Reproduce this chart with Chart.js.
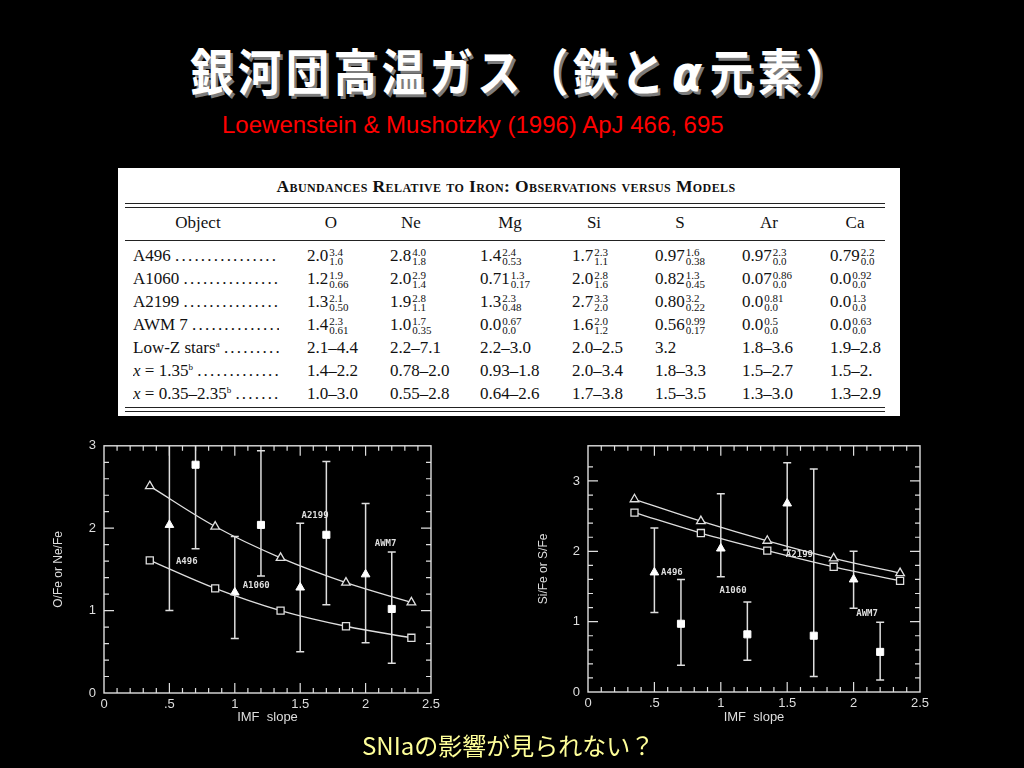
<!DOCTYPE html>
<html>
<head>
<meta charset="utf-8">
<script src="https://cdn.jsdelivr.net/npm/chart.js@4.4.0/dist/chart.umd.min.js"></script>
<style>
  body { margin: 0; background: #000; width: 1024px; height: 768px; overflow: hidden; position: relative; }
  #title { position: absolute; left: 190px; top: 34px; white-space: nowrap; color: #fff;
    font: bold 50px "Noto Sans CJK JP", sans-serif; text-shadow: 3px 3px 0 #7c7c7c; line-height: 70px;
    letter-spacing: 5px; transform: scaleX(0.87); transform-origin: left center; }
  #title i { font-family: "DejaVu Sans", sans-serif; font-weight: bold; margin: 0 4px; }
  #sub { position: absolute; left: 222px; top: 111px; white-space: nowrap; color: #ff0000;
    font: 24px "Liberation Sans", sans-serif; }
  #note { position: absolute; left: 362px; top: 727px; white-space: nowrap; color: #ffff99;
    font: 24px "Noto Sans CJK JP", sans-serif; }
  #tbl { position: absolute; left: 118px; top: 168px; width: 782px; height: 248px; background: #fff;
    font-family: "Liberation Serif", serif; color: #111; }
  #tbl .c { position: absolute; white-space: nowrap; font-size: 17px; line-height: 20px; height: 20px; }
  #tbl .ss { display: inline-block; vertical-align: middle; font-size: 11px; line-height: 9px; margin-left: 1px; }
  #tbl sup { font-size: 9px; line-height: 0; vertical-align: 6px; }
  #tbl .dt { letter-spacing: 2.2px; }
  #tbl .hl { position: absolute; left: 7px; width: 760px; height: 0; border-top: 1.5px solid #222; }
  .box { position: absolute; }
</style>
</head>
<body>
<div id="title">銀河団高温ガス（鉄と<i>α</i>元素）</div>
<div id="sub">Loewenstein &amp; Mushotzky (1996) ApJ 466, 695</div>
<div id="tbl"></div>
<div class="box" style="left:40px;top:430px;width:410px;height:300px"><canvas id="leftChart"></canvas></div>
<div class="box" style="left:530px;top:430px;width:420px;height:300px"><canvas id="rightChart"></canvas></div>
<div id="note">SNIaの影響が見られない？</div>
<script>
// model curves (IMF slope x)
const imfModel = [0.35, 0.85, 1.35, 1.85, 2.35];
const oModel = [2.51, 2.02, 1.64, 1.34, 1.10];
const neModel = [1.61, 1.27, 1.00, 0.81, 0.67];
const siModel = [2.74, 2.43, 2.15, 1.90, 1.69];
const sModel = [2.55, 2.26, 2.01, 1.78, 1.58];

// observed clusters
const clusters = ["A496", "A1060", "A2199", "AWM7"];
const imfTri = [0.5, 1.0, 1.5, 2.0];
const imfSq = [0.7, 1.2, 1.7, 2.2];
const oObs = [2.04, 1.22, 1.28, 1.44];
const oLo = [1.0, 0.66, 0.50, 0.61];
const oHi = [3.4, 1.9, 2.06, 2.3];
const neObs = [2.77, 2.04, 1.92, 1.02];
const neLo = [1.75, 1.42, 1.07, 0.36];
const neHi = [4.0, 2.94, 2.81, 1.71];
const siObs = [1.70, 2.04, 2.68, 1.60];
const siLo = [1.13, 1.64, 2.02, 1.19];
const siHi = [2.33, 2.82, 3.26, 2.00];
const sObs = [0.97, 0.82, 0.80, 0.57];
const sLo = [0.38, 0.45, 0.22, 0.17];
const sHi = [1.60, 1.28, 3.17, 0.99];

// cluster name anchors in data units
const leftLabelX = [0.55, 1.06, 1.51, 2.07];
const leftLabelY = [1.60, 1.30, 2.15, 1.81];
const rightLabelX = [0.55, 0.99, 1.49, 2.02];
const rightLabelY = [1.69, 1.44, 1.95, 1.12];

const xTickLabels = ["0", ".5", "1", "1.5", "2", "2.5"];
const yTickLabels = ["0", "1", "2", "3"];

// table
const tableTitle = "Abundances Relative to Iron: Observations versus Models";
const elements = ["O", "Ne", "Mg", "Si", "S", "Ar", "Ca"];
const objects = ["A496", "A1060", "A2199", "AWM 7"];
const objValues = [
  [["2.0","3.4","1.0"],["2.8","4.0","1.8"],["1.4","2.4","0.53"],["1.7","2.3","1.1"],["0.97","1.6","0.38"],["0.97","2.3","0.0"],["0.79","2.2","0.0"]],
  [["1.2","1.9","0.66"],["2.0","2.9","1.4"],["0.71","1.3","0.17"],["2.0","2.8","1.6"],["0.82","1.3","0.45"],["0.07","0.86","0.0"],["0.0","0.92","0.0"]],
  [["1.3","2.1","0.50"],["1.9","2.8","1.1"],["1.3","2.3","0.48"],["2.7","3.3","2.0"],["0.80","3.2","0.22"],["0.0","0.81","0.0"],["0.0","1.3","0.0"]],
  [["1.4","2.3","0.61"],["1.0","1.7","0.35"],["0.0","0.67","0.0"],["1.6","2.0","1.2"],["0.56","0.99","0.17"],["0.0","0.5","0.0"],["0.0","0.63","0.0"]]
];
const modelRowNames = ["Low-Z stars<sup>a</sup>", "<i>x</i> = 1.35<sup>b</sup>", "<i>x</i> = 0.35–2.35<sup>b</sup>"];
const modelRows = [
  ["2.1–4.4", "2.2–7.1", "2.2–3.0", "2.0–2.5", "3.2", "1.8–3.6", "1.9–2.8"],
  ["1.4–2.2", "0.78–2.0", "0.93–1.8", "2.0–3.4", "1.8–3.3", "1.5–2.7", "1.5–2."],
  ["1.0–3.0", "0.55–2.8", "0.64–2.6", "1.7–3.8", "1.5–3.5", "1.3–3.0", "1.3–2.9"]
];

// ---- build the table ----
const tbl = document.getElementById("tbl");
const colLeft = [189, 272, 362, 454, 537, 624, 712];
const colHead = [213, 293, 392, 476, 562, 651, 737];
function cell(html, left, mid, center) {
  const d = document.createElement("div");
  d.className = "c";
  d.innerHTML = html;
  d.style.top = (mid - 10) + "px";
  if (center) { d.style.left = (left - 60) + "px"; d.style.width = "120px"; d.style.textAlign = "center"; }
  else d.style.left = left + "px";
  tbl.appendChild(d);
  return d;
}
function hline(top) {
  const d = document.createElement("div");
  d.className = "hl";
  d.style.top = top + "px";
  tbl.appendChild(d);
}
const t = cell(tableTitle, 0, 18, false);
t.style.fontSize = "17.5px"; t.style.fontWeight = "bold"; t.style.fontVariant = "small-caps";
t.style.width = "776px"; t.style.textAlign = "center"; t.style.letterSpacing = "0.4px";
hline(35); hline(39); hline(72); hline(239); hline(243);
cell("Object", 80, 55, true);
elements.forEach((e, i) => cell(e, colHead[i], 55, true));
const dots = " <span class='dt'>.........................................</span>";
function rowLabel(html, mid) {
  const lab = cell(html + dots, 15, mid, false);
  lab.style.width = "146px"; lab.style.overflow = "hidden";
}
objects.forEach((o, r) => {
  const mid = 88 + 23 * r;
  rowLabel(o, mid);
  objValues[r].forEach((v, i) => {
    cell(v[0] + "<span class='ss'>" + v[1] + "<br>" + v[2] + "</span>", colLeft[i], mid, false);
  });
});
modelRowNames.forEach((n, r) => {
  const mid = 88 + 23 * (r + 4);
  rowLabel(n, mid);
  modelRows[r].forEach((v, i) => cell(v, colLeft[i], mid, false));
});

// ---- plots ----
const fg = "#dedede";
const tickFont = { family: "Liberation Sans", size: 13 };

const framePlugin = {
  id: "frame",
  beforeDatasetsDraw(chart, args, opts) {
    const { ctx, chartArea: a, scales: { x, y } } = chart;
    ctx.save();
    ctx.beginPath();
    ctx.rect(a.left, a.top, a.right - a.left, a.bottom - a.top);
    ctx.clip();
    ctx.strokeStyle = fg;
    ctx.lineWidth = 1.5;
    chart.data.datasets.forEach(ds => {
      if (!ds.errLo) return;
      ds.data.forEach((p, j) => {
        const px = x.getPixelForValue(p.x);
        const lo = y.getPixelForValue(ds.errLo[j]);
        const hi = y.getPixelForValue(ds.errHi[j]);
        ctx.beginPath();
        ctx.moveTo(px, lo); ctx.lineTo(px, hi);
        ctx.moveTo(px - 4, lo); ctx.lineTo(px + 4, lo);
        ctx.moveTo(px - 4, hi); ctx.lineTo(px + 4, hi);
        ctx.stroke();
      });
    });
    ctx.restore();
  },
  afterDatasetsDraw(chart, args, opts) {
    const { ctx, chartArea: a, scales: { x, y } } = chart;
    ctx.save();
    ctx.strokeStyle = fg;
    ctx.lineWidth = 1.4;
    ctx.strokeRect(a.left, a.top, a.right - a.left, a.bottom - a.top);
    ctx.lineWidth = 1.2;
    ctx.beginPath();
    x.ticks.forEach(tk => {
      const px = x.getPixelForValue(tk.value);
      if (px <= a.left + 1 || px >= a.right - 1) return;
      const r = tk.value / opts.xMajor;
      const len = Math.abs(r - Math.round(r)) < 1e-6 ? 10 : 5;
      ctx.moveTo(px, a.bottom); ctx.lineTo(px, a.bottom - len);
      ctx.moveTo(px, a.top); ctx.lineTo(px, a.top + len);
    });
    y.ticks.forEach(tk => {
      const py = y.getPixelForValue(tk.value);
      if (py <= a.top + 1 || py >= a.bottom - 1) return;
      const r = tk.value / opts.yMajor;
      const len = Math.abs(r - Math.round(r)) < 1e-6 ? 10 : 5;
      ctx.moveTo(a.left, py); ctx.lineTo(a.left + len, py);
      ctx.moveTo(a.right, py); ctx.lineTo(a.right - len, py);
    });
    ctx.stroke();
    ctx.fillStyle = fg;
    ctx.font = "bold 9px 'DejaVu Sans Mono'";
    ctx.textBaseline = "middle";
    opts.names.forEach((n, i) => {
      ctx.fillText(n, x.getPixelForValue(opts.labelX[i]), y.getPixelForValue(opts.labelY[i]));
    });
    ctx.restore();
  }
};

function pts(xs, ys) { return xs.map((v, i) => ({ x: v, y: ys[i] })); }

function modelSet(ys, style) {
  return {
    data: pts(imfModel, ys), showLine: true, tension: 0.35,
    borderColor: fg, borderWidth: 1.3,
    pointStyle: style, pointRadius: 5, pointBackgroundColor: "#000", pointBorderColor: fg, pointBorderWidth: 1.3
  };
}
function obsSet(xs, ys, lo, hi, style) {
  return {
    data: pts(xs, ys), showLine: false, errLo: lo, errHi: hi,
    pointStyle: style, pointRadius: 5, pointBackgroundColor: "#fff", pointBorderColor: "#fff", pointBorderWidth: 1
  };
}

function makePlot(id, datasets, yMax, yTitle, yWidth, xHeight, rightPad, titlePad, labelX, labelY) {
  new Chart(document.getElementById(id), {
    type: "scatter",
    data: { datasets: datasets },
    options: {
      responsive: true, maintainAspectRatio: false, animation: false,
      layout: { padding: { left: 0, right: rightPad, top: 14, bottom: 0 } },
      plugins: {
        legend: { display: false }, tooltip: { enabled: false },
        frame: { xMajor: 0.5, yMajor: 1, names: clusters, labelX: labelX, labelY: labelY }
      },
      scales: {
        x: {
          type: "linear", min: 0, max: 2.5,
          grid: { display: false, drawTicks: false }, border: { display: false },
          ticks: {
            stepSize: 0.1, autoSkip: false, maxRotation: 0, color: fg, font: tickFont, padding: 4,
            callback: v => { const r = v * 2; return Math.abs(r - Math.round(r)) < 1e-6 ? xTickLabels[Math.round(r)] : ""; }
          },
          title: { display: true, text: "IMF  slope", color: fg, font: { family: "Liberation Sans", size: 13 }, padding: { top: 0, bottom: 5 } },
          afterFit: s => { s.height = xHeight; }
        },
        y: {
          type: "linear", min: 0, max: yMax,
          grid: { display: false, drawTicks: false }, border: { display: false },
          ticks: {
            stepSize: 0.2, autoSkip: false, color: fg, font: tickFont, padding: 8,
            callback: v => Math.abs(v - Math.round(v)) < 1e-6 ? yTickLabels[Math.round(v)] : ""
          },
          title: { display: true, text: yTitle, color: fg, font: { family: "Liberation Sans", size: 12 }, padding: { top: titlePad, bottom: 0 } },
          afterFit: s => { s.width = yWidth; }
        }
      }
    },
    plugins: [framePlugin]
  });
}

makePlot("leftChart", [
  modelSet(oModel, "triangle"), modelSet(neModel, "rect"),
  obsSet(imfTri, oObs, oLo, oHi, "triangle"), obsSet(imfSq, neObs, neLo, neHi, "rect")
], 3, "O/Fe or Ne/Fe", 64, 37, 19, 11, leftLabelX, leftLabelY);

makePlot("rightChart", [
  modelSet(siModel, "triangle"), modelSet(sModel, "rect"),
  obsSet(imfTri, siObs, siLo, siHi, "triangle"), obsSet(imfSq, sObs, sLo, sHi, "rect")
], 3.5, "Si/Fe or S/Fe", 58, 38, 30, 6, rightLabelX, rightLabelY);
</script>
</body>
</html>
